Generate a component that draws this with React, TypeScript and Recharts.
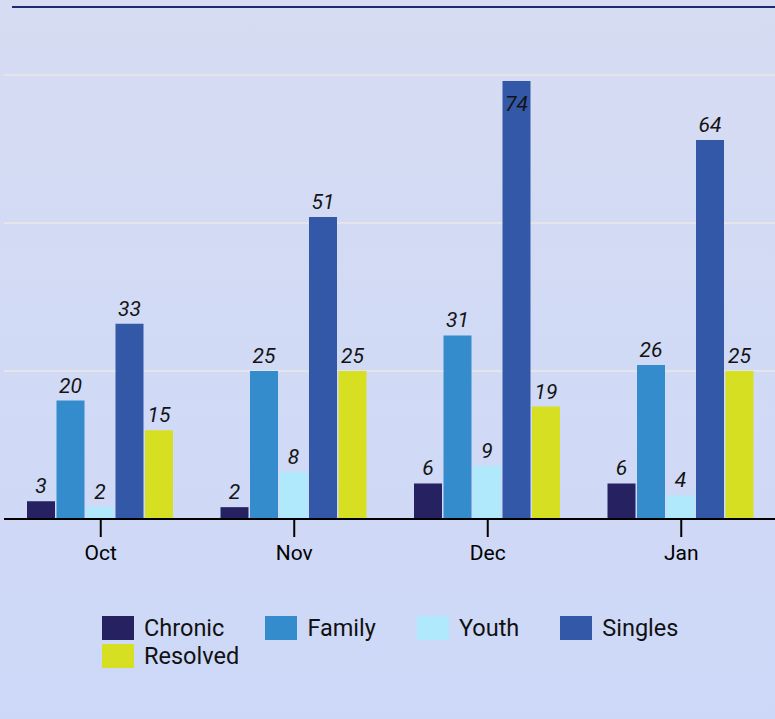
import React from "react";
import { BarChart, Bar, XAxis, YAxis, CartesianGrid, LabelList } from "recharts";

const months = ["Oct", "Nov", "Dec", "Jan"];
const chronic = [3, 2, 6, 6];
const family = [20, 25, 31, 26];
const youth = [2, 8, 9, 4];
const singles = [33, 51, 74, 64];
const resolved = [15, 25, 19, 25];
const yTicks = [0, 25, 50, 75];

const series = [
  { key: "Chronic", values: chronic, color: "#262261" },
  { key: "Family", values: family, color: "#348ccc" },
  { key: "Youth", values: youth, color: "#b0e9fb" },
  { key: "Singles", values: singles, color: "#3358a8" },
  { key: "Resolved", values: resolved, color: "#d7df22" },
];

const data = months.map((m, i) => {
  const row: Record<string, any> = { month: m };
  series.forEach((s) => (row[s.key] = s.values[i]));
  return row;
});

const PLOT_TOP = 75;
const PLOT_BOTTOM = 519;
const CHART_H = 719;
const XAXIS_H = 30;

const BarLabel = (props: any) => {
  const { x, y, width, value } = props;
  const cx = Number(x) + Number(width) / 2;
  const top = Number(y);
  const inside = top - 24 < PLOT_TOP;
  const ty = inside ? top + 30 : top - 8;
  return (
    <text
      x={cx}
      y={ty}
      textAnchor="middle"
      fontFamily="Roboto"
      fontStyle="italic"
      fontSize={21}
      fill="#141414"
    >
      {value}
    </text>
  );
};

export default function App() {
  return (
    <div
      style={{
        position: "absolute",
        left: 0,
        top: 0,
        width: 775,
        height: 719,
        overflow: "hidden",
        background: "linear-gradient(180deg, #d6dcf2 0%, #d1daf5 50%, #cdd8f8 100%)",
        fontFamily: "Roboto",
      }}
    >
      <div
        style={{
          position: "absolute",
          left: 12,
          top: 6,
          width: 763,
          height: 2,
          background: "#1d2a6c",
        }}
      />
      <div style={{ position: "absolute", left: 0, top: 0 }}>
        <BarChart
          width={782}
          height={CHART_H}
          data={data}
          margin={{ top: PLOT_TOP, right: 4, left: 4, bottom: CHART_H - PLOT_BOTTOM - XAXIS_H }}
          barGap={1.5}
          barCategoryGap={23}
        >
          <CartesianGrid vertical={false} stroke="#e4e4ea" strokeWidth={2} />
          <YAxis hide domain={[0, 75]} ticks={yTicks} />
          <XAxis
            dataKey="month"
            height={XAXIS_H}
            stroke="#000"
            strokeWidth={2}
            tickSize={18}
            tickMargin={8}
            tick={{ fill: "#000", fontSize: 21, fontFamily: "Roboto" }}
            tickLine={{ stroke: "#000", strokeWidth: 2 }}
            axisLine={{ stroke: "#000", strokeWidth: 2 }}
          />
          {series.map((s) => (
            <Bar key={s.key} dataKey={s.key} fill={s.color} isAnimationActive={false}>
              <LabelList dataKey={s.key} content={BarLabel} />
            </Bar>
          ))}
        </BarChart>
      </div>
      <div
        style={{
          position: "absolute",
          left: 102,
          top: 616,
          width: 600,
          display: "flex",
          flexWrap: "wrap",
          columnGap: 41,
          rowGap: 4,
        }}
      >
        {series.map((s) => (
          <div key={s.key} style={{ display: "flex", alignItems: "center", height: 24 }}>
            <div style={{ width: 32, height: 24, background: s.color }} />
            <span
              style={{
                marginLeft: 10,
                fontSize: 23.5,
                lineHeight: "24px",
                color: "#111",
                fontFamily: "Roboto",
              }}
            >
              {s.key}
            </span>
          </div>
        ))}
      </div>
    </div>
  );
}
